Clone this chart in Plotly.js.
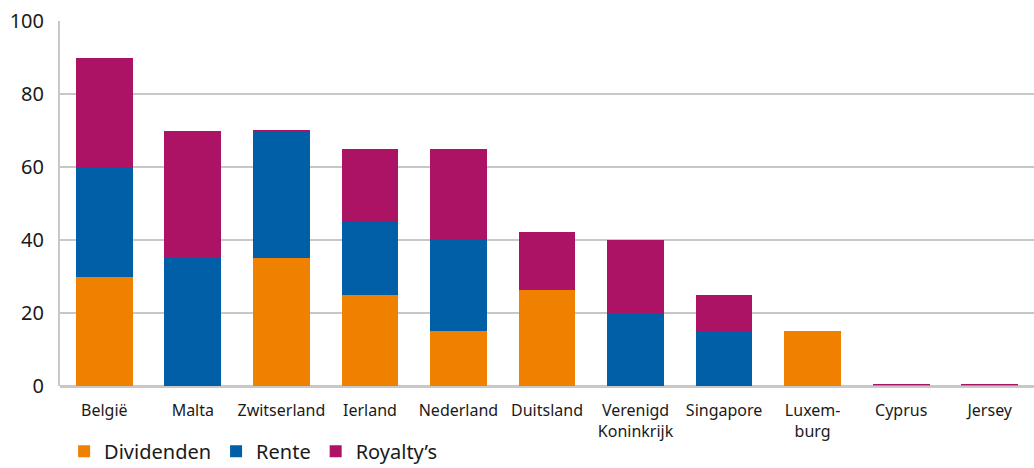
<!DOCTYPE html>
<html>
<head>
<meta charset="utf-8">
<script src="https://cdn.plot.ly/plotly-3.0.1.min.js"></script>
<style>html,body{margin:0;padding:0;background:#fff;}#chart{width:1034px;height:468px;}</style>
</head>
<body>
<div id="chart"></div>
<script>
const categories = ["België", "Malta", "Zwitserland", "Ierland", "Nederland", "Duitsland", "Verenigd<br>Koninkrijk", "Singapore", "Luxem-<br>burg", "Cyprus", "Jersey"];
const dividenden = [30, 0, 35, 25, 15, 26.3, 0, 0, 15, 0.2, 0.2];
const rente      = [30, 35, 35, 20, 25, 0, 20, 15, 0, 0, 0];
const royalties  = [30, 35, 0.15, 20, 25, 15.9, 20, 10, 0, 0.25, 0.25];
const seriesNames = ["Dividenden", "Rente", "Royalty’s"];
const colors = ["#ef8000", "#005fa6", "#ad1364"];
const yTicks = [0, 20, 40, 60, 80, 100];

const data = [dividenden, rente, royalties].map((vals, i) => ({
  type: "bar",
  x: categories,
  y: vals,
  name: seriesNames[i],
  marker: {color: colors[i], line: {width: 0}},
  hoverinfo: "y"
}));

const layout = {
  width: 1034, height: 468,
  margin: {l: 60, r: 0, t: 21, b: 82},
  barmode: "stack",
  bargap: 0.36,
  paper_bgcolor: "#fff",
  plot_bgcolor: "#fff",
  font: {family: "Noto Sans, sans-serif", color: "#1a1a1a"},
  showlegend: true,
  legend: {
    orientation: "h",
    xref: "container", yref: "container",
    x: 0.062, xanchor: "left",
    y: 0.036, yanchor: "middle",
    font: {size: 20, color: "#1a1a1a"},
    traceorder: "normal",
    itemwidth: 30
  },
  xaxis: {
    type: "category",
    automargin: false,
    showgrid: false,
    showline: false,
    ticks: "",
    ticklabelstandoff: 13,
    tickfont: {size: 16, color: "#1a1a1a"},
    fixedrange: true
  },
  yaxis: {
    range: [0, 100],
    automargin: false,
    tickvals: yTicks,
    ticktext: yTicks.map(String),
    showgrid: true,
    gridcolor: "#c8c8c8",
    gridwidth: 2,
    zeroline: true,
    zerolinecolor: "#c8c8c8",
    zerolinewidth: 3,
    showline: true,
    linecolor: "#c8c8c8",
    linewidth: 2,
    ticks: "",
    ticklabelstandoff: 10,
    tickfont: {size: 20, color: "#1a1a1a"},
    fixedrange: true
  }
};

Plotly.newPlot("chart", data, layout, {displayModeBar: false, staticPlot: true});
</script>
</body>
</html>
